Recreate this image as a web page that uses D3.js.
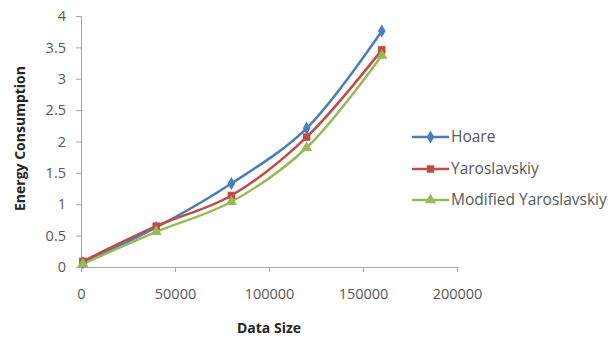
<!DOCTYPE html>
<html>
<head>
<meta charset="utf-8">
<script src="https://cdn.jsdelivr.net/npm/d3@7"></script>
<style>
  html, body { margin: 0; padding: 0; background: #fff; }
  svg { display: block; }
  text { font-family: "Open Sans", "Liberation Sans", sans-serif; }
</style>
</head>
<body>
<svg id="chart" width="615" height="341"></svg>
<script>
// Data sizes (x values) and energy readings per algorithm
const dataSizes = [1000, 40000, 80000, 120000, 160000];
const hoare = [0.07, 0.63, 1.33, 2.21, 3.76];
const yaroslavskiy = [0.09, 0.65, 1.14, 2.07, 3.46];
const modifiedYaroslavskiy = [0.05, 0.56, 1.04, 1.9, 3.37];
const seriesNames = ["Hoare", "Yaroslavskiy", "Modified Yaroslavskiy"];
const xTicks = [0, 50000, 100000, 150000, 200000];
const yTicks = [0, 0.5, 1, 1.5, 2, 2.5, 3, 3.5, 4];

const series = [
  { name: seriesNames[0], values: hoare, color: "#4A7EBB", symbol: d3.symbolDiamond, size: 50 },
  { name: seriesNames[1], values: yaroslavskiy, color: "#BE4B48", symbol: d3.symbolSquare, size: 56 },
  { name: seriesNames[2], values: modifiedYaroslavskiy, color: "#98B954", symbol: d3.symbolTriangle, size: 54 }
];

const svg = d3.select("#chart");
const x = d3.scaleLinear().domain([0, 200000]).range([81, 457]);
const y = d3.scaleLinear().domain([0, 4]).range([267, 16]);
const axisColor = "#A6A6A6";
const labelColor = "#595959";

// Y axis
const yAxis = svg.append("g").attr("transform", `translate(${x(0)},0)`)
  .call(d3.axisLeft(y).tickValues(yTicks).tickSize(5).tickPadding(10).tickFormat(d3.format("")));
yAxis.select(".domain").attr("stroke", axisColor);
yAxis.selectAll(".tick line").attr("stroke", axisColor);
yAxis.selectAll(".tick text").attr("fill", labelColor).style("font-size", "14.5px")
  .style("font-family", "'Open Sans', sans-serif");

// X axis
const xAxis = svg.append("g").attr("transform", `translate(0,${y(0)})`)
  .call(d3.axisBottom(x).tickValues(xTicks).tickSize(5).tickPadding(17).tickFormat(d3.format("d")));
xAxis.select(".domain").attr("stroke", axisColor);
xAxis.selectAll(".tick line").attr("stroke", axisColor);
xAxis.selectAll(".tick text").attr("fill", labelColor).style("font-size", "14.5px")
  .style("font-family", "'Open Sans', sans-serif");

// Axis titles
svg.append("text")
  .attr("transform", `translate(20,${(y(0) + y(4)) / 2 - 3}) rotate(-90)`)
  .attr("text-anchor", "middle")
  .attr("dy", "0.35em")
  .attr("fill", "#262626")
  .style("font-size", "14px").style("font-weight", "bold")
  .text("Energy Consumption");
svg.append("text")
  .attr("x", 269)
  .attr("y", 333)
  .attr("text-anchor", "middle")
  .attr("fill", "#262626")
  .style("font-size", "14px").style("font-weight", "bold")
  .text("Data Size");

// Smoothed series lines with markers
const line = d3.line()
  .x((d, i) => x(dataSizes[i]))
  .y(d => y(d))
  .curve(d3.curveCatmullRom.alpha(0.5));

series.forEach(s => {
  svg.append("path")
    .attr("d", line(s.values))
    .attr("fill", "none")
    .attr("stroke", s.color)
    .attr("stroke-width", 2.5);
});
series.forEach(s => {
  svg.append("g").selectAll("path")
    .data(s.values)
    .join("path")
    .attr("transform", (d, i) => `translate(${x(dataSizes[i])},${y(d)})`)
    .attr("d", d3.symbol(s.symbol, s.size))
    .attr("fill", s.color);
});

// Legend
const legendY = [137, 169, 200];
series.forEach((s, i) => {
  const g = svg.append("g").attr("transform", `translate(0,${legendY[i]})`);
  g.append("line").attr("x1", 412).attr("x2", 449).attr("y1", 0).attr("y2", 0)
    .attr("stroke", s.color).attr("stroke-width", 2.5);
  g.append("path").attr("transform", "translate(430.5,0)")
    .attr("d", d3.symbol(s.symbol, s.size)).attr("fill", s.color);
  g.append("text").attr("x", 451).attr("y", 0).attr("dy", "0.35em")
    .attr("fill", labelColor)
    .style("font-size", "15.5px")
    .text(s.name);
});
</script>
</body>
</html>
